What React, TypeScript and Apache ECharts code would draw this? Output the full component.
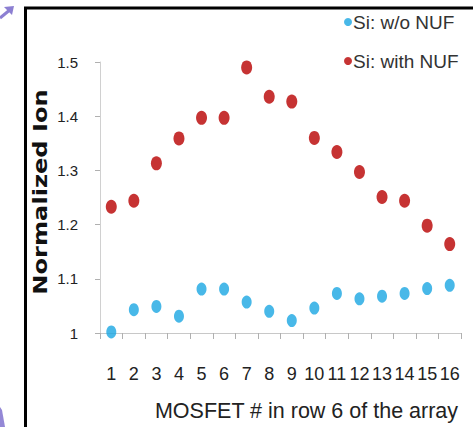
import React, { useEffect, useRef } from "react";
import * as echarts from "echarts";

const categories = ["1", "2", "3", "4", "5", "6", "7", "8", "9", "10", "11", "12", "13", "14", "15", "16"];
const seriesNames = ["Si: w/o NUF", "Si: with NUF"];
const withoutNUF = [1.002, 1.043, 1.049, 1.031, 1.081, 1.081, 1.057, 1.04, 1.023, 1.046, 1.073, 1.063, 1.068, 1.073, 1.082, 1.088];
const withNUF = [1.233, 1.244, 1.313, 1.359, 1.397, 1.397, 1.49, 1.436, 1.427, 1.36, 1.334, 1.297, 1.251, 1.244, 1.198, 1.164];
const yTicks = { min: 1, max: 1.5, interval: 0.1 };
const xTitle = "MOSFET # in row 6 of the array";
const yTitle = "Normalized Ion";

const SANS = '"Liberation Sans", Arial, sans-serif';

export default function App() {
  const ref = useRef<HTMLDivElement>(null);
  useEffect(() => {
    if (!ref.current) return;
    const chart = echarts.init(ref.current, null, { renderer: "svg" });
    chart.setOption({
      animation: false,
      backgroundColor: "#ffffff",
      grid: { left: 100, right: 12, top: 62, bottom: 92, containLabel: false },
      legend: {
        orient: "vertical",
        left: 339,
        top: 7,
        itemWidth: 8,
        itemHeight: 8,
        itemGap: 19,
        icon: "circle",
        data: seriesNames,
        textStyle: { fontFamily: SANS, fontSize: 19, color: "#333", lineHeight: 20, padding: [0, 0, 0, -4] },
      },
      xAxis: {
        type: "category",
        data: categories,
        boundaryGap: true,
        name: xTitle,
        nameLocation: "middle",
        nameGap: 67,
        nameTextStyle: { fontFamily: SANS, fontSize: 21.5, color: "#222", padding: [0, 0, 0, 52] },
        axisLine: { lineStyle: { color: "#c8c8c8", width: 1 } },
        axisTick: { show: true, length: 6, lineStyle: { color: "#b0b0b0" } },
        axisLabel: { interval: 0, margin: 32, fontFamily: SANS, fontSize: 18, color: "#222" },
        splitLine: { show: false },
      },
      yAxis: {
        type: "value",
        min: yTicks.min,
        max: yTicks.max,
        interval: yTicks.interval,
        axisLine: { show: true, lineStyle: { color: "#d0d0d0", width: 1 } },
        axisTick: { show: true, length: 5, lineStyle: { color: "#b0b0b0" } },
        axisLabel: { margin: 22, fontFamily: SANS, fontSize: 15, color: "#222" },
        splitLine: { show: false },
      },
      graphic: [
        {
          type: "rect",
          shape: { x: 25.5, y: 8, width: 520, height: 500 },
          style: { fill: "none", stroke: "#000", lineWidth: 3 },
          silent: true,
        },
        {
          type: "text",
          x: 40,
          y: 192,
          rotation: Math.PI / 2,
          scaleX: 1.27,
          style: {
            text: yTitle,
            font: 'bold 19px "DejaVu Sans", sans-serif',
            fill: "#111",
            textAlign: "center",
            textVerticalAlign: "middle",
            align: "center",
            verticalAlign: "middle",
          },
        },
        {
          type: "polyline",
          shape: { points: [[0, 18], [11, 9]] },
          style: { stroke: "#8c7fd2", lineWidth: 3 },
        },
        {
          type: "polygon",
          shape: { points: [[14, 6], [4, 7], [12, 15]] },
          style: { fill: "#8c7fd2" },
        },
        {
          type: "polygon",
          shape: { points: [[0, 407], [2, 410], [5, 427], [0, 427]] },
          style: { fill: "#9488d6" },
        },
      ],
      series: [
        {
          name: seriesNames[0],
          type: "scatter",
          data: withoutNUF,
          symbol: "circle",
          symbolSize: [10, 13],
          itemStyle: { color: "#1aa6e2" },
        },
        {
          name: seriesNames[1],
          type: "scatter",
          data: withNUF,
          symbol: "circle",
          symbolSize: [11, 14],
          itemStyle: { color: "#b80000" },
        },
      ],
    });
    return () => chart.dispose();
  }, []);
  return <div ref={ref} style={{ width: 473, height: 427, position: "absolute", left: 0, top: 0 }} />;
}
